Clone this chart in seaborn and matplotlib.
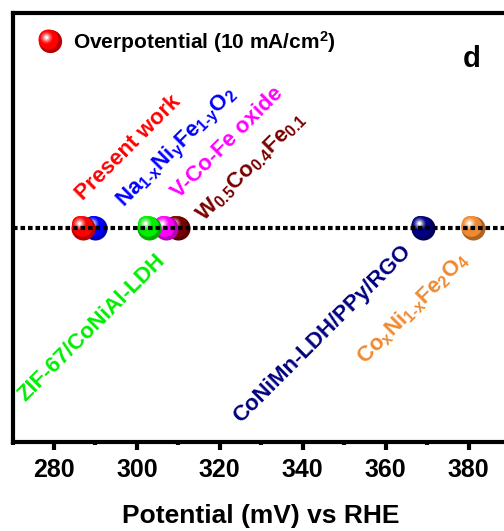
import numpy as np
import matplotlib
matplotlib.use("Agg")
import matplotlib.pyplot as plt
from matplotlib.colors import to_rgb
from matplotlib.transforms import offset_copy
from matplotlib.ticker import MultipleLocator
import seaborn as sns

# Overpotential at 10 mA/cm2 for each catalyst (mV vs RHE)
materials = [
    "Present work",
    r"Na$_{1\text{-}x}$Ni$_y$Fe$_{1\text{-}y}$O$_2$",
    "ZIF-67/CoNiAl-LDH",
    "V-Co-Fe oxide",
    r"W$_{0.5}$Co$_{0.4}$Fe$_{0.1}$",
    "CoNiMn-LDH/PPy/RGO",
    r"Co$_x$Ni$_{1\text{-}x}$Fe$_2$O$_4$",
]
overpotential = [287, 290, 303, 307, 310, 369, 381]
colors = ["#ff0000", "#0000ff", "#00ee00", "#ff00ff", "#7a0000", "#000080", "#f08a30"]

# label anchor (baseline start) for each material, data coordinates
label_x = [287.0, 296.9, 273.2, 310.2, 316.1, 325.0, 355.0]
label_y = [0.125, 0.090, -0.815, 0.135, 0.025, -0.915, -0.640]

xticks = [280, 300, 320, 340, 360, 380]

sns.set_style("white")
plt.rcParams["font.family"] = ["Liberation Sans", "DejaVu Sans"]
plt.rcParams["font.weight"] = "bold"
plt.rcParams["text.color"] = "black"
plt.rcParams["axes.labelcolor"] = "black"
plt.rcParams["xtick.color"] = "black"
plt.rcParams["mathtext.fontset"] = "custom"
plt.rcParams["mathtext.rm"] = "Liberation Sans:bold"
plt.rcParams["mathtext.it"] = "Liberation Sans:bold"
plt.rcParams["mathtext.bf"] = "Liberation Sans:bold"
plt.rcParams["mathtext.default"] = "regular"

fig = plt.figure(figsize=(5.04, 5.31), dpi=100)
ax = fig.add_axes([12.5 / 504, 89 / 531, 497.5 / 504, 429 / 531])

SIZE = 300  # marker area, points^2


def shade_sphere(ax, x, y, color, size, z, trans):
    """Glossy highlight layers over a base disc to give a sphere look."""
    rgb = np.array(to_rgb(color))
    d = np.sqrt(size)
    ax.scatter([x], [y], s=(0.86 * d) ** 2, color=rgb, linewidths=0, zorder=z + 0.01,
               transform=offset_copy(trans, fig, x=-0.06 * d, y=0.06 * d, units="points"),
               clip_on=False)
    n = 12
    for k in range(n):
        t = k / (n - 1)
        dd = d * (0.62 - 0.52 * t)
        col = np.clip(rgb + (1 - rgb) * (t ** 1.4), 0, 1)
        ax.scatter([x], [y], s=dd ** 2, color=col, linewidths=0, zorder=z + 0.02 + 0.001 * k,
                   transform=offset_copy(trans, fig, x=-0.16 * d, y=0.18 * d, units="points"),
                   clip_on=False)


# spheres: lower overpotential drawn on top
for i in reversed(range(len(materials))):
    z = 3 + (len(materials) - i)
    rim = np.array(to_rgb(colors[i])) * 0.72
    sns.scatterplot(x=[overpotential[i]], y=[0], color=rim, s=SIZE, linewidth=0,
                    ax=ax, zorder=z, legend=False, clip_on=False)
    shade_sphere(ax, overpotential[i], 0, colors[i], SIZE, z, ax.transData)

# reference line
ax.axhline(0, color="black", lw=3, dashes=(1.1, 0.7), zorder=20)

# material labels
for i, name in enumerate(materials):
    ax.text(label_x[i], label_y[i], name, color=colors[i], fontsize=16, fontweight="bold",
            rotation=45, rotation_mode="anchor", ha="left", va="baseline", zorder=25)

# legend entry
sns.scatterplot(x=[0.0744], y=[0.935], color=np.array(to_rgb("#ff0000")) * 0.72, s=280,
                linewidth=0, ax=ax, transform=ax.transAxes, legend=False, clip_on=False, zorder=30)
shade_sphere(ax, 0.0744, 0.935, "#ff0000", 280, 30, ax.transAxes)
ax.text(0.1216, 0.933, r"Overpotential (10 mA/cm$^2$)", transform=ax.transAxes,
        fontsize=15, fontweight="bold", ha="left", va="center", color="black")

ax.text(0.923, 0.893, "d", transform=ax.transAxes, fontsize=21, fontweight="bold",
        ha="center", va="center", color="black")

ax.set_xlim(270, 390)
ax.set_ylim(-1, 1)
ax.set_xticks(xticks)
ax.set_xticklabels([str(t) for t in xticks])
ax.xaxis.set_minor_locator(MultipleLocator(10))
ax.set_yticks([])
ax.set_ylabel("")
ax.set_xlabel("Potential (mV) vs RHE", fontsize=19, fontweight="bold", labelpad=16,
              color="black")

for side in ["left", "top", "bottom"]:
    ax.spines[side].set_linewidth(3)
    ax.spines[side].set_color("black")
ax.spines["right"].set_visible(False)

ax.tick_params(axis="x", which="major", direction="out", length=5.5, width=3,
               labelsize=18, pad=6, bottom=True, colors="black")
ax.tick_params(axis="x", which="minor", direction="out", length=2.5, width=3, bottom=True)
for lbl in ax.get_xticklabels():
    lbl.set_fontweight("bold")

fig.savefig("out.png", dpi=100)
